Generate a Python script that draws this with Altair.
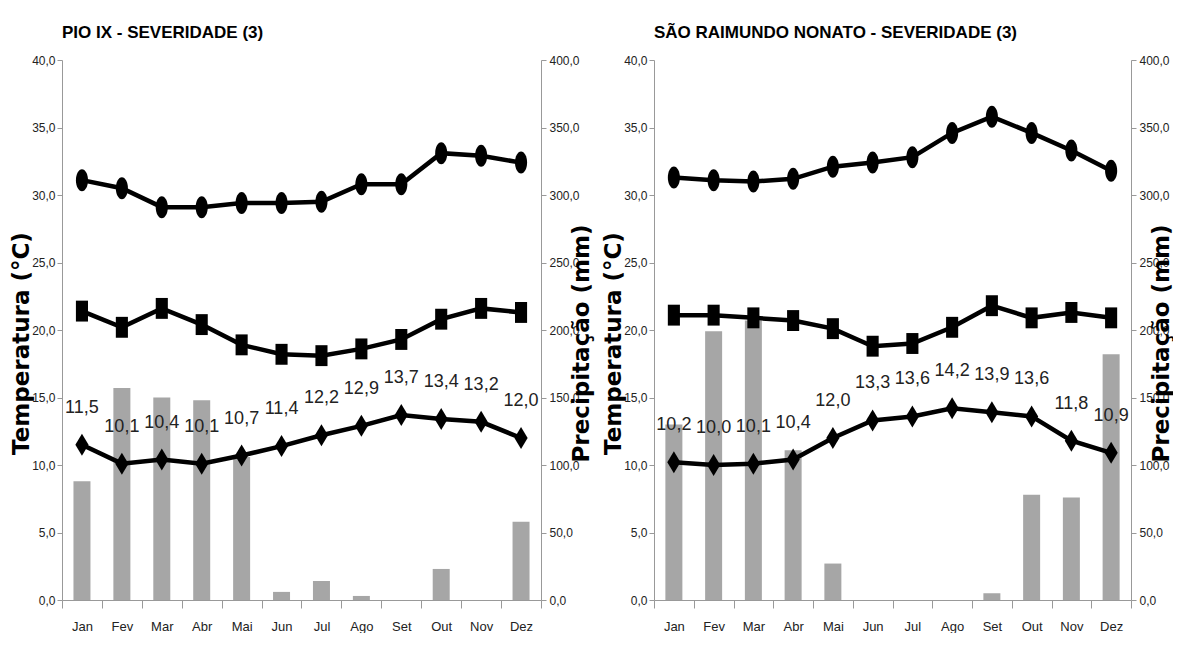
import altair as alt
import pandas as pd

months = ["Jan", "Fev", "Mar", "Abr", "Mai", "Jun", "Jul", "Ago", "Set", "Out", "Nov", "Dez"]

# PIO IX
pio_max = [31.1, 30.5, 29.1, 29.1, 29.4, 29.4, 29.5, 30.8, 30.8, 33.1, 32.9, 32.4]
pio_min = [21.4, 20.2, 21.6, 20.4, 18.9, 18.2, 18.1, 18.6, 19.3, 20.8, 21.6, 21.3]
pio_amp = [11.5, 10.1, 10.4, 10.1, 10.7, 11.4, 12.2, 12.9, 13.7, 13.4, 13.2, 12.0]
pio_prec = [88, 157, 150, 148, 106, 6, 14, 3, 0, 23, 0, 58]

# SÃO RAIMUNDO NONATO
sao_max = [31.3, 31.1, 31.0, 31.2, 32.1, 32.4, 32.8, 34.6, 35.8, 34.6, 33.3, 31.8]
sao_min = [21.1, 21.1, 20.9, 20.7, 20.1, 18.8, 19.0, 20.2, 21.8, 20.9, 21.3, 20.9]
sao_amp = [10.2, 10.0, 10.1, 10.4, 12.0, 13.3, 13.6, 14.2, 13.9, 13.6, 11.8, 10.9]
sao_prec = [130, 199, 207, 111, 27, 0, 0, 0, 5, 78, 76, 182]

titles = ["PIO IX - SEVERIDADE (3)", "SÃO RAIMUNDO NONATO - SEVERIDADE (3)"]
temp_title = "Temperatura (°C)"
prec_title = "Precipitação (mm)"

SANS = "Liberation Sans"
BOLD = "DejaVu Sans"
AXC = "#999999"
TXT = "#222222"

ELLIPSE = ("M0,-1 C0.304,-1 0.55,-0.552 0.55,0 C0.55,0.552 0.304,1 0,1 "
           "C-0.304,1 -0.55,0.552 -0.55,0 C-0.55,-0.552 -0.304,-1 0,-1 Z")
RECT = "M-0.55,-0.95 L0.55,-0.95 L0.55,0.95 L-0.55,0.95 Z"
DIAMOND = "M0,-1 L0.6,0 L0,1 L-0.6,0 Z"

fmt = "replace(format(datum.value, '.1f'), '.', ',')"


def panel(title, tmax, tmin, tamp, prec, width, right_title_x):
    df_t = pd.DataFrame({
        "mes": months * 3,
        "serie": ["max"] * 12 + ["min"] * 12 + ["amp"] * 12,
        "valor": tmax + tmin + tamp,
    })
    df_p = pd.DataFrame({"mes": months, "prec": prec})

    x = alt.X(
        "mes:N", sort=months, title=None,
        scale=alt.Scale(paddingInner=0, paddingOuter=0),
        axis=alt.Axis(labelAngle=0, tickBand="extent", tickSize=8, tickColor=AXC,
                      domainColor=AXC, labelFont=SANS, labelFontSize=13,
                      labelColor=TXT, labelPadding=12),
    )
    y_t = alt.Y(
        "valor:Q", scale=alt.Scale(domain=[0, 40], nice=False),
        axis=alt.Axis(orient="left", values=list(range(0, 41, 5)), labelExpr=fmt,
                      title=temp_title, titleFont=BOLD, titleFontSize=23,
                      titleFontWeight="bold", titleColor="black", titleAngle=270,
                      titleX=-41, titleY=283, titleAlign="center", titleBaseline="middle",
                      labelFont=SANS, labelFontSize=12, labelColor=TXT,
                      tickSize=5, tickColor=AXC, domainColor=AXC, labelPadding=2,
                      grid=False),
    )
    y_p = alt.Y(
        "prec:Q", scale=alt.Scale(domain=[0, 400], nice=False),
        axis=alt.Axis(orient="right", values=list(range(0, 401, 50)), labelExpr=fmt,
                      title=prec_title, titleFont=BOLD, titleFontSize=23,
                      titleFontWeight="bold", titleColor="black", titleAngle=270,
                      titleX=right_title_x, titleY=283, titleAlign="center",
                      titleBaseline="middle",
                      labelFont=SANS, labelFontSize=12, labelColor=TXT,
                      tickSize=5, tickColor=AXC, domainColor=AXC, labelPadding=3,
                      grid=False),
    )

    bars = alt.Chart(df_p).mark_bar(color="#a6a6a6", size=17).encode(x=x, y=y_p)

    base = alt.Chart(df_t)
    lines = base.mark_line(color="black", strokeWidth=4.5).encode(
        x=x, y=y_t, detail="serie:N")
    points = base.mark_point(filled=True, color="black", opacity=1, size=484).encode(
        x=x, y=y_t,
        shape=alt.Shape("serie:N", legend=None,
                        scale=alt.Scale(domain=["max", "min", "amp"],
                                        range=[ELLIPSE, RECT, DIAMOND])),
    )
    labels = base.transform_filter(alt.datum.serie == "amp").transform_calculate(
        lab="replace(format(datum.valor, '.1f'), '.', ',')"
    ).mark_text(dy=-32, baseline="alphabetic", fontSize=18, font=SANS,
                color=TXT).encode(x=x, y=y_t, text="lab:N")

    temps = alt.layer(lines, points, labels)
    return alt.layer(bars, temps).resolve_scale(y="independent").properties(
        width=width, height=540,
        title=alt.TitleParams(title, anchor="start", frame="group", font=SANS,
                              fontSize=17, fontWeight="bold", color="black",
                              offset=12),
    )


chart = alt.hconcat(
    panel(titles[0], pio_max, pio_min, pio_amp, pio_prec, 479, 40),
    panel(titles[1], sao_max, sao_min, sao_amp, sao_prec, 477, 30),
    spacing=9,
).configure_view(stroke=None).properties(
    padding={"left": 2, "top": 16, "right": 0, "bottom": 0}
)

chart.save("out.html", embed_options={"renderer": "svg", "actions": False})
